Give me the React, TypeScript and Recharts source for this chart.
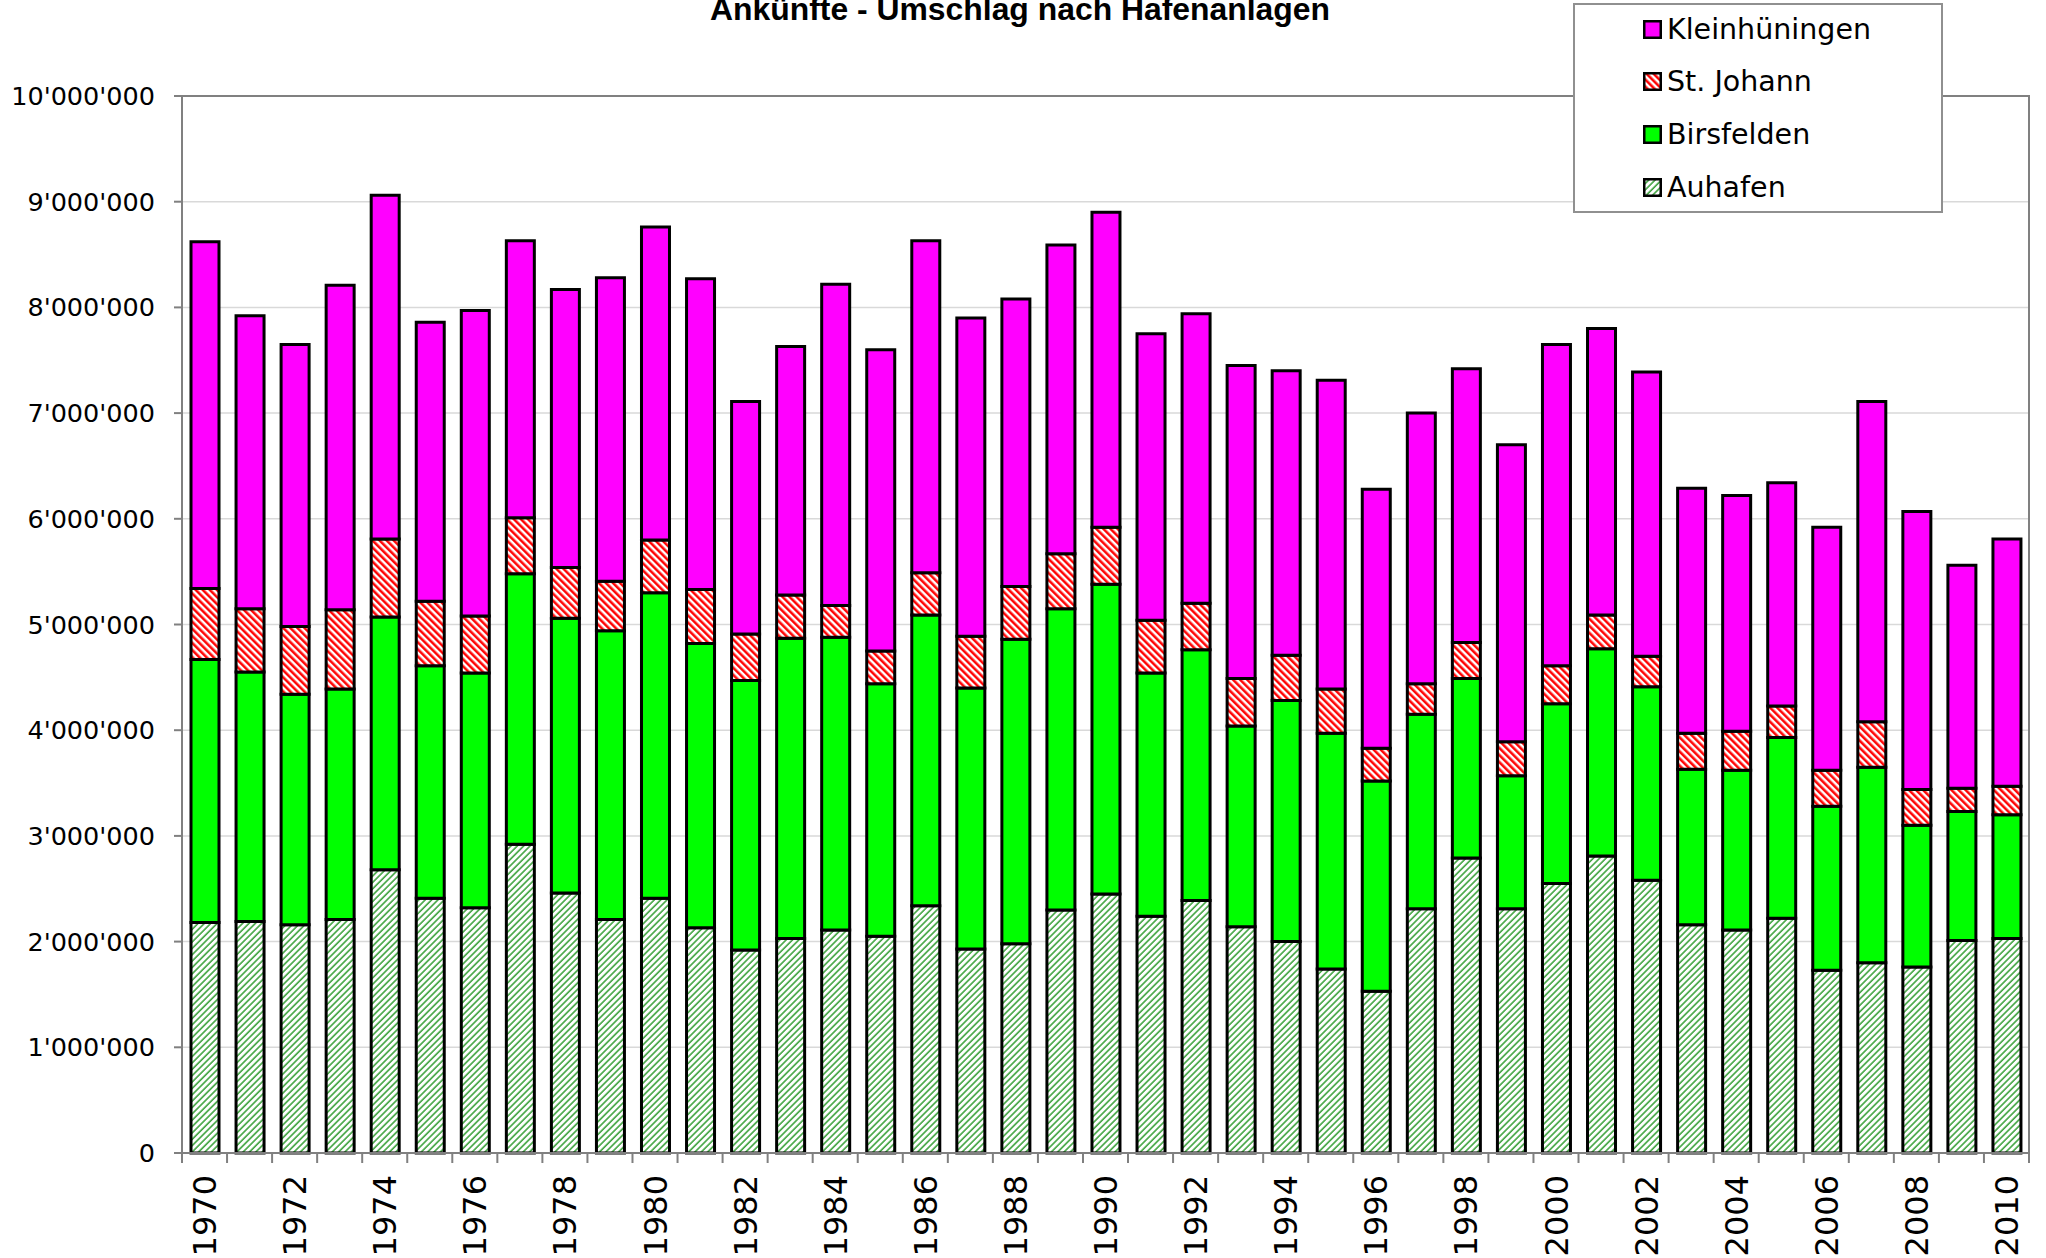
import { BarChart, Bar, XAxis, YAxis, CartesianGrid, ReferenceArea } from "recharts";

const years = [
  1970, 1971, 1972, 1973, 1974, 1975, 1976, 1977, 1978, 1979,
  1980, 1981, 1982, 1983, 1984, 1985, 1986, 1987, 1988, 1989,
  1990, 1991, 1992, 1993, 1994, 1995, 1996, 1997, 1998, 1999,
  2000, 2001, 2002, 2003, 2004, 2005, 2006, 2007, 2008, 2009,
  2010,
];

// tonnes per harbour
const auhafen = [
  2180000, 2190000, 2160000, 2210000, 2680000, 2410000, 2320000, 2920000, 2460000, 2210000,
  2410000, 2130000, 1920000, 2030000, 2110000, 2050000, 2340000, 1930000, 1980000, 2300000,
  2450000, 2240000, 2390000, 2140000, 2000000, 1740000, 1530000, 2310000, 2790000, 2310000,
  2550000, 2810000, 2580000, 2160000, 2110000, 2220000, 1730000, 1800000, 1760000, 2010000,
  2030000,
];
const birsfelden = [
  2490000, 2360000, 2180000, 2180000, 2390000, 2200000, 2220000, 2560000, 2600000, 2730000,
  2890000, 2690000, 2550000, 2840000, 2770000, 2390000, 2750000, 2470000, 2880000, 2850000,
  2930000, 2300000, 2370000, 1900000, 2280000, 2230000, 1990000, 1840000, 1700000, 1260000,
  1700000, 1960000, 1830000, 1470000, 1510000, 1710000, 1550000, 1850000, 1340000, 1220000,
  1170000,
];
const stJohann = [
  670000, 600000, 640000, 750000, 740000, 610000, 540000, 530000, 480000, 470000,
  500000, 510000, 440000, 410000, 300000, 310000, 400000, 490000, 500000, 520000,
  540000, 500000, 440000, 450000, 430000, 420000, 310000, 290000, 340000, 320000,
  360000, 320000, 290000, 340000, 370000, 300000, 340000, 430000, 340000, 220000,
  270000,
];
const kleinhueningen = [
  3280000, 2770000, 2670000, 3070000, 3250000, 2640000, 2890000, 2620000, 2630000, 2870000,
  2960000, 2940000, 2200000, 2350000, 3040000, 2850000, 3140000, 3010000, 2720000, 2920000,
  2980000, 2710000, 2740000, 2960000, 2690000, 2920000, 2450000, 2560000, 2590000, 2810000,
  3040000, 2710000, 2690000, 2320000, 2230000, 2110000, 2300000, 3030000, 2630000, 2110000,
  2340000,
];

const yTicks = [0, 1000000, 2000000, 3000000, 4000000, 5000000, 6000000, 7000000, 8000000, 9000000, 10000000];

const legendItems = [
  { name: "Kleinhüningen", fill: "#ff00ff" },
  { name: "St. Johann", fill: "url(#pat-stjohann)" },
  { name: "Birsfelden", fill: "#00ff00" },
  { name: "Auhafen", fill: "url(#pat-auhafen)" },
];

const data = years.map((y, i) => ({
  year: String(y),
  auhafen: auhafen[i],
  birsfelden: birsfelden[i],
  stJohann: stJohann[i],
  kleinhueningen: kleinhueningen[i],
}));

const W = 2046;
const H = 1258;
const MARGIN = { top: 96, right: 17, bottom: 0, left: 0 };
const Y_W = 182;
const X_H = 105;
const BAND = (W - MARGIN.left - MARGIN.right - Y_W) / years.length;
const AXIS = "#808080";
const FONT = "'DejaVu Sans', Verdana, sans-serif";

const fmt = (v: number) => String(v).replace(/\B(?=(\d{3})+(?!\d))/g, "'");

function YearTick(props: any) {
  const { x, y, payload, index } = props;
  const half = BAND / 2;
  const ty = y + 12;
  return (
    <g>
      <line x1={x - half} x2={x - half} y1={y - 10} y2={y} stroke={AXIS} strokeWidth={2} />
      {index === years.length - 1 && (
        <line x1={x + half} x2={x + half} y1={y - 10} y2={y} stroke={AXIS} strokeWidth={2} />
      )}
      {index % 2 === 0 && (
        <text
          x={x}
          y={ty}
          dy="0.36em"
          transform={`rotate(-90 ${x} ${ty})`}
          textAnchor="end"
          fontSize={32}
          fontFamily={FONT}
          fill="#000"
        >
          {payload.value}
        </text>
      )}
    </g>
  );
}

export default function App() {
  return (
    <div style={{ position: "absolute", left: 0, top: 0, width: W, height: H, background: "#fff", overflow: "hidden" }}>
      <svg width={W} height={40} style={{ position: "absolute", left: 0, top: 0 }}>
        <defs>
          <pattern id="pat-auhafen" width={4.5} height={4.5} patternUnits="userSpaceOnUse" patternTransform="rotate(45)">
            <rect width={4.5} height={4.5} fill="#fff" />
            <line x1={1} y1={0} x2={1} y2={4.5} stroke="#3fa33f" strokeWidth={1.6} />
          </pattern>
          <pattern id="pat-stjohann" width={5} height={5} patternUnits="userSpaceOnUse" patternTransform="rotate(-45)">
            <rect width={5} height={5} fill="#fff" />
            <line x1={1.3} y1={0} x2={1.3} y2={5} stroke="#ff0000" strokeWidth={2.5} />
          </pattern>
        </defs>
        <text
          x={710}
          y={20}
          textLength={620}
          lengthAdjust="spacingAndGlyphs"
          fontSize={32}
          fontWeight="bold"
          fontFamily="'Liberation Sans', Arial, sans-serif"
          fill="#000"
        >
          Ankünfte - Umschlag nach Hafenanlagen
        </text>
      </svg>

      <div style={{ position: "absolute", left: 0, top: 0 }}>
        <BarChart width={W} height={H} data={data} margin={MARGIN} barSize={28}>
          <CartesianGrid vertical={false} stroke="#d9d9d9" strokeWidth={1.5} />
          <XAxis
            dataKey="year"
            interval={0}
            height={X_H}
            tickSize={10}
            tickMargin={0}
            tickLine={false}
            axisLine={{ stroke: AXIS, strokeWidth: 2 }}
            tick={<YearTick />}
          />
          <YAxis
            type="number"
            domain={[0, 10000000]}
            ticks={yTicks}
            width={Y_W}
            tickSize={8}
            tickMargin={19}
            tickFormatter={fmt}
            axisLine={{ stroke: AXIS, strokeWidth: 2 }}
            tickLine={{ stroke: AXIS, strokeWidth: 2 }}
            tick={{ fontSize: 25.5, fontFamily: FONT, fill: "#000" }}
          />
          <ReferenceArea
            x1="1970"
            x2="2010"
            y1={0}
            y2={10000000}
            fill="none"
            stroke={AXIS}
            strokeWidth={2}
          />
          <Bar dataKey="auhafen" stackId="s" fill="url(#pat-auhafen)" stroke="#000" strokeWidth={3} isAnimationActive={false} />
          <Bar dataKey="birsfelden" stackId="s" fill="#00ff00" stroke="#000" strokeWidth={3} isAnimationActive={false} />
          <Bar dataKey="stJohann" stackId="s" fill="url(#pat-stjohann)" stroke="#000" strokeWidth={3} isAnimationActive={false} />
          <Bar dataKey="kleinhueningen" stackId="s" fill="#ff00ff" stroke="#000" strokeWidth={3} isAnimationActive={false} />
        </BarChart>
      </div>

      <div
        style={{
          position: "absolute",
          left: 1573,
          top: 3,
          width: 366,
          height: 206,
          border: `2px solid #909090`,
          background: "#fff",
          fontFamily: FONT,
          fontSize: 28.5,
          color: "#000",
        }}
      >
        {legendItems.map((item, i) => (
          <div
            key={item.name}
            style={{
              position: "absolute",
              left: 68,
              top: 24 + i * 52.7 - 20,
              height: 40,
              display: "flex",
              alignItems: "center",
              whiteSpace: "nowrap",
            }}
          >
            <svg width={19} height={19} style={{ marginRight: 5 }}>
              <rect x={1.25} y={1.25} width={16.5} height={16.5} fill={item.fill} stroke="#000" strokeWidth={2.5} />
            </svg>
            <span>{item.name}</span>
          </div>
        ))}
      </div>
    </div>
  );
}
